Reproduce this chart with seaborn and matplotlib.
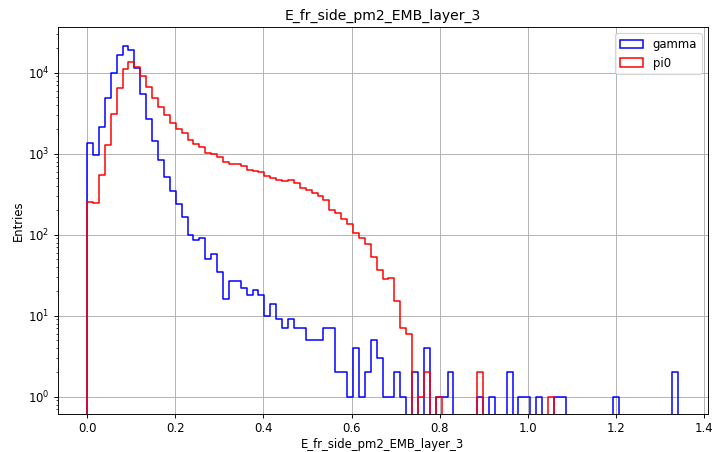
import numpy as np
import pandas as pd
import matplotlib
matplotlib.use("Agg")
import matplotlib.pyplot as plt
from matplotlib.patches import Patch
import seaborn as sns

# binning of the histogram: 100 equal bins over [0, 1.34]
x_lo = 0.0
x_hi = 1.34
n_bins = 100

var_name = "E_fr_side_pm2_EMB_layer_3"
labels = ["gamma", "pi0"]
colors = ["blue", "red"]

# entries per bin
gamma_counts = [
    1370, 975, 2130, 4860, 9890, 16670, 21600, 18830, 11400, 5510,
    2710, 1422, 836, 522, 344, 242, 166, 99, 87, 90,
    50, 58, 35, 16, 27, 27, 22, 18, 21, 18,
    10, 14, 9, 7, 9, 7, 7, 5, 5, 5,
    7, 7, 2, 2, 1, 4, 1, 2, 5, 3,
    1, 1, 2, 1, 0, 2, 0, 4, 0, 1,
    1, 2, 0, 0, 0, 0, 1, 0, 1, 0,
    0, 2, 0, 1, 1, 0, 1, 0, 0, 1,
    1, 0, 0, 0, 0, 0, 0, 0, 0, 1,
    0, 0, 0, 0, 0, 0, 0, 0, 0, 2,
]
pi0_counts = [
    254, 246, 542, 1270, 3060, 6460, 11200, 13400, 11800, 9150,
    6650, 4920, 3770, 2975, 2370, 2000, 1810, 1492, 1333, 1200,
    1015, 990, 910, 795, 755, 745, 705, 624, 606, 600,
    534, 507, 470, 461, 470, 435, 378, 354, 331, 301,
    270, 200, 185, 155, 136, 105, 92, 76, 53, 37,
    28, 29, 15, 7, 6, 0, 1, 2, 0, 1,
    0, 0, 0, 0, 0, 0, 2, 0, 0, 0,
    0, 0, 0, 0, 0, 0, 0, 0, 1, 0,
    0, 0, 0, 0, 0, 0, 0, 0, 0, 0,
    0, 0, 0, 0, 0, 0, 0, 0, 0, 0,
]

# one empty bin on each side so the outline drops to the baseline at the ends
w = (x_hi - x_lo) / n_bins
edges = np.linspace(x_lo - w, x_hi + w, n_bins + 3)
centers = (edges[:-1] + edges[1:]) / 2

dpi = 83.76
fig = plt.figure(figsize=(712 / dpi, 452 / dpi), dpi=dpi)
ax = fig.add_axes([0.0808, 0.0834, 0.9129, 0.8562])

for counts, lab, col in zip([gamma_counts, pi0_counts], labels, colors):
    df = pd.DataFrame({"x": centers, "n": np.concatenate([[0], counts, [0]])})
    sns.histplot(data=df, x="x", weights="n", bins=edges.tolist(), element="step",
                 fill=False, color=col, linewidth=1.3, ax=ax)

ax.set_yscale("log")
ax.set_xlim(-0.067, 1.407)
ax.set_ylim(0.607, 36300)
ax.grid(True)
ax.set_axisbelow(True)

ax.set_title(var_name)
ax.set_xlabel(var_name, labelpad=2)
ax.set_ylabel("Entries", labelpad=2.5)

handles = [Patch(facecolor="none", edgecolor=c, linewidth=1.3, label=l)
           for l, c in zip(labels, colors)]
ax.legend(handles=handles, loc="upper right")

fig.savefig("out.png", dpi=dpi)
